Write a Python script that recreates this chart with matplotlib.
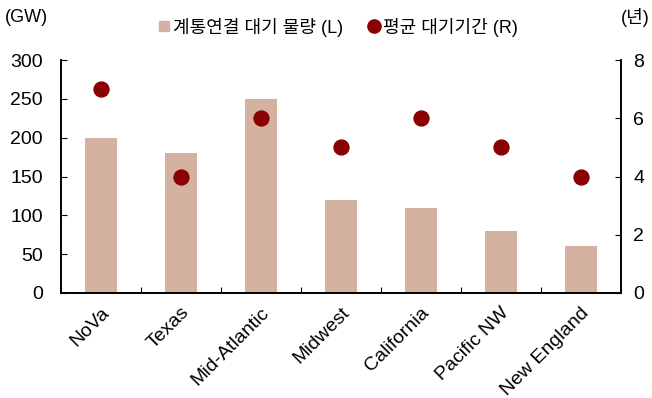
import matplotlib.pyplot as plt
import numpy as np
from matplotlib.lines import Line2D

plt.rcParams['font.family'] = ['Liberation Sans', 'Noto Sans CJK KR', 'DejaVu Sans']

regions = ['NoVa', 'Texas', 'Mid-Atlantic', 'Midwest', 'California', 'Pacific NW', 'New England']
queue_gw = [200, 180, 250, 120, 110, 80, 60]
wait_years = [7, 4, 6, 5, 6, 5, 4]

bar_color = '#d4b2a2'
dot_color = '#8b0000'

fig = plt.figure(figsize=(6.52, 3.98), dpi=100)
ax = fig.add_axes([0.0936, 0.264, 0.8584, 0.585])
ax2 = ax.twinx()

x = np.arange(len(regions))
ax.bar(x, queue_gw, width=0.4, color=bar_color, zorder=2)
ax2.scatter(x, wait_years, s=115, color=dot_color, zorder=3)

ax.set_xlim(-0.5, len(regions) - 0.5)
ax.set_ylim(0, 300)
ax.set_yticks(np.arange(0, 301, 50))
ax2.set_ylim(0, 8)
ax2.set_yticks(np.arange(0, 9, 2))

# ticks sit between categories on the x axis
ax.set_xticks(np.arange(-0.5, len(regions), 1.0))
ax.set_xticklabels([])
ax.set_xticks(x, minor=True)
ax.set_xticklabels(regions, minor=True, rotation=45, ha='right', rotation_mode='anchor', fontsize=14)
ax.tick_params(axis='x', which='minor', length=0, pad=8)
ax.tick_params(axis='x', which='major', direction='in', length=4)
ax.tick_params(axis='y', direction='in', length=4, labelsize=14, pad=13)
ax2.tick_params(axis='y', direction='in', length=4, labelsize=14, pad=9)

for a in (ax, ax2):
    a.spines['top'].set_visible(False)
    for s in ('left', 'right', 'bottom'):
        a.spines[s].set_linewidth(1.2)

fig.text(0.008, 0.955, '(GW)', fontsize=13, ha='left', va='center')
fig.text(0.997, 0.955, '(년)', fontsize=13, ha='right', va='center')

handles = [
    Line2D([], [], marker='s', linestyle='none', markersize=7.5, color=bar_color),
    Line2D([], [], marker='o', linestyle='none', markersize=9.5, color=dot_color),
]
fig.legend(handles, ['계통연결 대기 물량 (L)', '평균 대기기간 (R)'], loc='center',
           bbox_to_anchor=(0.517, 0.932), ncol=2, frameon=False, fontsize=13,
           handlelength=0.8, handletextpad=0.1, columnspacing=1.3,
           borderpad=0, borderaxespad=0)

fig.savefig('out.png', dpi=100)
